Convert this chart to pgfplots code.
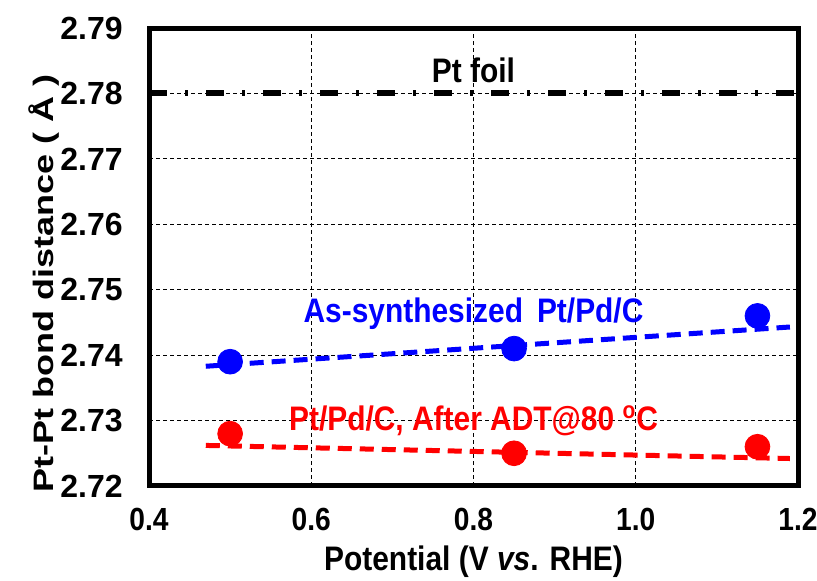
\documentclass[border=0pt]{standalone}
\usepackage{pgfplots}
\pgfplotsset{compat=1.18}
\usepackage{fontspec}
\setmainfont{Liberation Sans}
\newfontfamily\narrow{Liberation Sans}[FakeStretch=0.88]
\begin{document}
\begin{tikzpicture}
\begin{axis}[
  name=ax,
  scale only axis,
  width=324.5pt, height=229pt,
  xmin=0.4, xmax=1.2, ymin=2.72, ymax=2.79,
  xtick={0.4,0.6,0.8,1.0,1.2},
  ytick={2.72,2.73,2.74,2.75,2.76,2.77,2.78,2.79},
  major tick length=0pt,
  axis line style={line width=2.5pt},
  grid=major,
  major grid style={black, line width=0.5pt, dash pattern=on 2pt off 1.5pt},
  /pgf/number format/assume math mode=true,
  xticklabel style={/pgf/number format/fixed,/pgf/number format/precision=1,/pgf/number format/fixed zerofill, font=\fontsize{16}{18}\selectfont\narrow\bfseries, anchor=north, inner sep=0pt, yshift=-11pt},
  yticklabel style={/pgf/number format/fixed,/pgf/number format/precision=2,/pgf/number format/fixed zerofill, font=\fontsize{16}{18}\selectfont\bfseries, anchor=east, inner sep=0pt, xshift=-13pt},
  xlabel={Potential (V \textit{vs}. RHE)},
  ylabel={Pt-Pt bond distance ( Å )},
  xlabel style={font=\fontsize{17}{19}\selectfont\narrow\bfseries, at={(rel axis cs:0.5,0)}, anchor=center, yshift=-38pt},
  ylabel style={font=\fontsize{18}{20}\selectfont\bfseries, at={(rel axis cs:0,0.443)}, anchor=center, yscale=0.78, yshift=67pt},
  clip=false,
]
% Pt foil reference line
\addplot[black, line width=3pt, dash pattern=on 9pt off 9pt on 1.5pt off 9pt] coordinates {(0.4,2.78) (1.2,2.78)};
% fit lines
\addplot[blue, line width=2.5pt, dash pattern=on 7pt off 4pt] coordinates {(0.47,2.7383) (1.19,2.7443)};
\addplot[red, line width=2.5pt, dash pattern=on 7pt off 4pt] coordinates {(0.47,2.7262) (1.19,2.7242)};
% data
\addplot[only marks, mark=*, mark size=6.2pt, blue, mark options={fill=blue, draw=blue}] coordinates {(0.50,2.739) (0.85,2.741) (1.15,2.746)};
\addplot[only marks, mark=*, mark size=6.2pt, red, mark options={fill=red, draw=red}] coordinates {(0.50,2.728) (0.85,2.725) (1.15,2.726)};
\node[font=\fontsize{17}{19}\selectfont\narrow\bfseries] at (axis cs:0.8,2.7836) {Pt foil};
\node[font=\fontsize{17}{19}\selectfont\narrow\bfseries, text=blue] at (axis cs:0.8,2.7464) {As-synthesized\, Pt/Pd/C};
\node[font=\fontsize{17}{19}\selectfont\narrow\bfseries, text=red] at (axis cs:0.8,2.7300) {Pt/Pd/C, After ADT@80 \textsuperscript{o}C};
\coordinate (bl) at (rel axis cs:0,0);
\coordinate (tr) at (rel axis cs:1,1);
\end{axis}
\pgfresetboundingbox
\path (bl) ++(-74.5pt,-47.5pt) coordinate (BL);
\path (tr) ++(9.5pt,14pt) coordinate (TR);
\path[use as bounding box] (BL) rectangle (TR);
\end{tikzpicture}
\end{document}
